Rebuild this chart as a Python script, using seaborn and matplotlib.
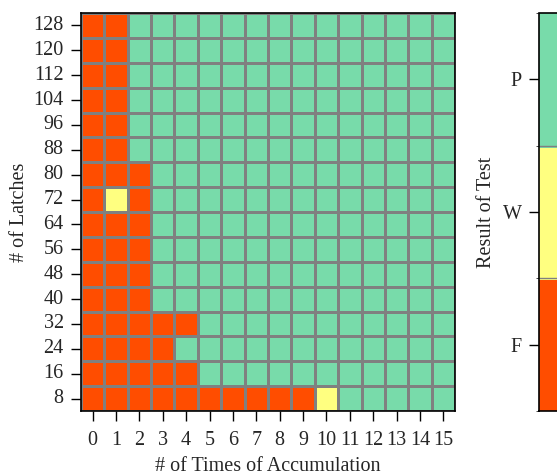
import numpy as np
import pandas as pd
import matplotlib
matplotlib.use("Agg")
import matplotlib.pyplot as plt
import seaborn as sns
from matplotlib.colors import ListedColormap, BoundaryNorm

# 数据：每行从 0 到 15 次累积的测试结果 (F=失败, W=警告, P=通过)
latches = [128, 120, 112, 104, 96, 88, 80, 72, 64, 56, 48, 40, 32, 24, 16, 8]
accum = list(range(16))
results = [
    "FFPPPPPPPPPPPPPP",  # 128
    "FFPPPPPPPPPPPPPP",  # 120
    "FFPPPPPPPPPPPPPP",  # 112
    "FFPPPPPPPPPPPPPP",  # 104
    "FFPPPPPPPPPPPPPP",  # 96
    "FFPPPPPPPPPPPPPP",  # 88
    "FFFPPPPPPPPPPPPP",  # 80
    "FWFPPPPPPPPPPPPP",  # 72
    "FFFPPPPPPPPPPPPP",  # 64
    "FFFPPPPPPPPPPPPP",  # 56
    "FFFPPPPPPPPPPPPP",  # 48
    "FFFPPPPPPPPPPPPP",  # 40
    "FFFFFPPPPPPPPPPP",  # 32
    "FFFFPPPPPPPPPPPP",  # 24
    "FFFFFPPPPPPPPPPP",  # 16
    "FFFFFFFFFFWPPPPP",  # 8
]
result_names = ["F", "W", "P"]
colors = ["#ff4d00", "#ffff80", "#78dbaa"]

code = {name: i for i, name in enumerate(result_names)}
df = pd.DataFrame([[code[c] for c in row] for row in results],
                  index=latches, columns=accum)

sns.set_style("white")
plt.rcParams['font.family'] = ['Liberation Serif', 'DejaVu Serif']
fs = 14.5

cmap = ListedColormap(colors)
norm = BoundaryNorm([-0.5, 0.5, 1.5, 2.5], 3)

fig = plt.figure(figsize=(5.57, 4.75), dpi=100)
ax = fig.add_axes([0.1454, 0.1347, 0.6715, 0.8379])
cax = fig.add_axes([0.9677, 0.1347, 0.06, 0.8379])

sns.heatmap(df, ax=ax, cmap=cmap, norm=norm, linewidths=0.8, linecolor="#808080",
            cbar_ax=cax, cbar_kws={"ticks": [0, 1, 2]}, square=False)

for side in ax.spines.values():
    side.set_visible(True)
    side.set_color("black")
    side.set_linewidth(1.2)

ax.set_yticklabels(latches, rotation=0)
ax.set_xticklabels(accum, rotation=0)
ax.tick_params(axis="both", which="major", length=7.5, width=1, color="black",
               direction="out", bottom=True, left=True, labelsize=fs)
ax.tick_params(axis="y", pad=5)
ax.tick_params(axis="x", pad=7)
ax.set_xlabel("# of Times of Accumulation", fontsize=fs, labelpad=5)
ax.set_ylabel("# of Latches", fontsize=fs, labelpad=3)

cbar = ax.collections[0].colorbar
cbar.set_ticklabels(result_names)
cbar.outline.set_edgecolor("black")
cbar.outline.set_linewidth(1.2)
cax.yaxis.set_ticks_position("left")
cax.yaxis.set_label_position("left")
cax.tick_params(length=7.5, width=1, color="black", labelsize=fs, left=True, right=False, pad=5)
cbar.set_label("Result of Test", fontsize=fs, labelpad=5)
cbar.solids.set_edgecolor("face")
for b in [0.5, 1.5]:
    cax.axhline(b, color="#808080", linewidth=1)

fig.savefig("out.png", dpi=100)
